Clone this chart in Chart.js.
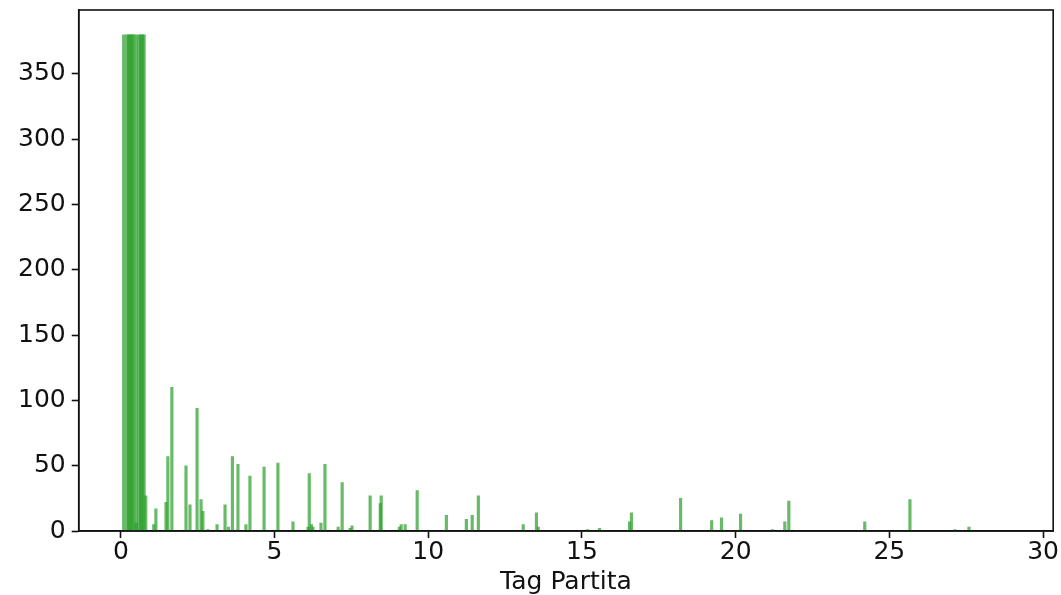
<!DOCTYPE html>
<html>
<head>
<meta charset="utf-8">
<script src="https://cdn.jsdelivr.net/npm/chart.js@4/dist/chart.umd.min.js"></script>
<style>
  html, body { margin: 0; padding: 0; background: #fff; }
  #wrap { width: 1061px; height: 595px; }
</style>
</head>
<body>
<div id="wrap"><canvas id="chart" width="1061" height="595"></canvas></div>
<script>
// Tag Partita (x) e conteggi (y)
const tagValues = [
    0.81, 1.07, 1.14, 1.47, 1.53, 1.66, 2.12, 2.25, 2.48, 2.61, 2.67, 2.83,
    3.13, 3.39, 3.50, 3.63, 3.81, 4.07, 4.20, 4.66, 5.11, 5.60,
    6.09, 6.13, 6.20, 6.25, 6.51, 6.64, 7.07, 7.20, 7.46, 7.52,
    8.11, 8.44, 8.47, 9.06, 9.12, 9.25, 9.64, 10.59, 11.24, 11.43, 11.63,
    13.09, 13.52, 13.58, 15.18, 15.57, 16.55, 16.61, 18.21, 19.22, 19.54,
    20.16, 21.20, 21.60, 21.73, 24.20, 25.67, 27.13, 27.59
];
const counts = [
    27, 5, 17, 22, 57, 110, 50, 20, 94, 24, 15, 1,
    5, 20, 3, 57, 51, 5, 42, 49, 52, 7,
    3, 44, 5, 3, 6, 51, 3, 37, 2, 4,
    27, 21, 27, 3, 5, 5, 31, 12, 9, 12, 27,
    5, 14, 3, 1, 2, 7, 14, 25, 8, 10,
    13, 1, 7, 23, 7, 24, 1, 3
];

// Barre sovrapposte vicino allo zero (tagliate a 380)
const capTags = [0.10, 0.21, 0.26, 0.31, 0.36, 0.41, 0.50, 0.60, 0.65, 0.70, 0.75, 0.50];
const capCounts = [380, 380, 380, 380, 380, 380, 380, 380, 380, 380, 380, 6];

const xTicks = [0, 5, 10, 15, 20, 25, 30];
const yTicks = [0, 50, 100, 150, 200, 250, 300, 350];

const barColor = 'rgba(44,160,44,0.72)';
const font = { family: '"DejaVu Sans", sans-serif', size: 25, lineHeight: 1 };

// Disegna il riquadro completo (spine superiore e destra)
const boxPlugin = {
    id: 'box',
    afterDraw(chart) {
        const { ctx, chartArea: a } = chart;
        ctx.save();
        ctx.strokeStyle = '#111';
        ctx.lineWidth = 1.6;
        ctx.strokeRect(a.left, a.top, a.right - a.left, a.bottom - a.top);
        ctx.restore();
    }
};

new Chart(document.getElementById('chart').getContext('2d'), {
    type: 'bar',
    data: {
        datasets: [
            {
                data: capTags.map((x, i) => ({ x: x, y: capCounts[i] })),
                backgroundColor: barColor,
                barThickness: 3,
                grouped: false
            },
            {
                data: tagValues.map((x, i) => ({ x: x, y: counts[i] })),
                backgroundColor: barColor,
                barThickness: 2.5,
                grouped: false
            }
        ]
    },
    plugins: [boxPlugin],
    options: {
        responsive: false,
        animation: false,
        layout: { padding: { left: 12, right: 5, top: 10, bottom: 0 } },
        plugins: {
            legend: { display: false },
            tooltip: { enabled: false }
        },
        scales: {
            x: {
                type: 'linear',
                offset: false,
                min: -1.37,
                max: 30.33,
                afterBuildTicks: scale => {
                    scale.ticks = xTicks.map(v => ({ value: v }));
                },
                ticks: { font: font, color: '#111', padding: 2, maxRotation: 0 },
                grid: { offset: false, drawOnChartArea: false, drawTicks: true, tickLength: 7, tickColor: '#111', tickWidth: 1.6 },
                border: { display: true, color: '#111', width: 1.6 },
                title: { display: true, text: 'Tag Partita', font: font, color: '#111', padding: { top: 3, bottom: 0 } }
            },
            y: {
                min: 0,
                max: 399,
                afterBuildTicks: scale => {
                    scale.ticks = yTicks.map(v => ({ value: v }));
                },
                afterFit: scale => {
                    scale.paddingTop = 0;
                },
                ticks: { font: font, color: '#111', padding: 6 },
                grid: { drawOnChartArea: false, drawTicks: true, tickLength: 7, tickColor: '#111', tickWidth: 1.6 },
                border: { display: true, color: '#111', width: 1.6 }
            }
        }
    }
});
</script>
</body>
</html>
